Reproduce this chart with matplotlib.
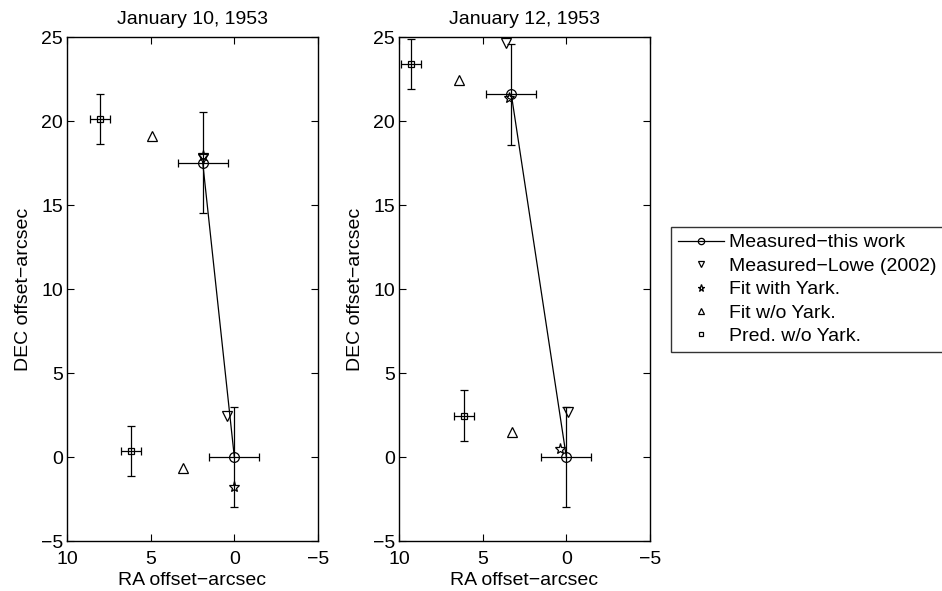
import matplotlib
matplotlib.use("Agg")
import matplotlib.pyplot as plt
from matplotlib.lines import Line2D

plt.rcParams['font.family'] = ['Liberation Sans', 'DejaVu Sans']
plt.rcParams['font.size'] = 14

titles = ["January 10, 1953", "January 12, 1953"]

# Measured - this work (with error bars)
meas_ra = [[1.89, 0.0], [3.29, 0.0]]
meas_dec = [[17.52, 0.0], [21.6, 0.0]]
meas_ra_err = 1.5
meas_dec_err = 3.0

# Measured - Lowe (2002)
lowe_ra = [[1.9, 0.43], [3.61, -0.12]]
lowe_dec = [[17.8, 2.46], [24.63, 2.66]]

# Fit with Yark.
fitY_ra = [[1.85, 0.0], [3.45, 0.38]]
fitY_dec = [[17.9, -1.8], [21.37, 0.46]]

# Fit w/o Yark.
fitN_ra = [[4.92, 3.08], [6.41, 3.27]]
fitN_dec = [[19.13, -0.64], [22.44, 1.47]]

# Pred. w/o Yark. (with error bars)
pred_ra = [[8.02, 6.17], [9.29, 6.13]]
pred_dec = [[20.12, 0.36], [23.39, 2.46]]
pred_ra_err = 0.6
pred_dec_err = 1.5

labels = ["Measured\u2212this work", "Measured\u2212Lowe (2002)", "Fit with Yark.",
          "Fit w/o Yark.", "Pred. w/o Yark."]

fig = plt.figure(figsize=(9.42, 5.91), dpi=100)
lefts = [67/942, 399/942]
bottom = 1 - 541/591
width = 251/942
height = 504/591

lw = 0.9
for i in range(2):
    ax = fig.add_axes([lefts[i], bottom, width, height])
    ax.errorbar(pred_ra[i], pred_dec[i], xerr=pred_ra_err, yerr=pred_dec_err,
                fmt='s', ms=5, mfc='none', mec='k', mew=lw, ecolor='k',
                elinewidth=lw, capsize=3, capthick=lw, zorder=3)
    ax.errorbar(meas_ra[i], meas_dec[i], xerr=meas_ra_err, yerr=meas_dec_err,
                fmt='o-', ms=7, mfc='none', mec='k', mew=lw, color='k', lw=lw,
                ecolor='k', elinewidth=lw, capsize=3, capthick=lw, zorder=3)
    ax.plot(lowe_ra[i], lowe_dec[i], 'v', ms=7, mfc='none', mec='k', mew=lw, ls='none', zorder=4)
    ax.plot(fitY_ra[i], fitY_dec[i], '*', ms=8, mfc='none', mec='k', mew=lw, ls='none', zorder=4)
    ax.plot(fitN_ra[i], fitN_dec[i], '^', ms=7, mfc='none', mec='k', mew=lw, ls='none', zorder=4)

    ax.set_xlim(10, -5)
    ax.set_ylim(-5, 25)
    ax.set_xticks([10, 5, 0, -5])
    ax.set_yticks([-5, 0, 5, 10, 15, 20, 25])
    ax.tick_params(direction='in', top=True, right=True, length=5, width=0.8)
    ax.tick_params(axis='x', pad=7)
    ax.tick_params(axis='y', pad=3)
    for s in ax.spines.values():
        s.set_linewidth(1.0)
    ax.set_title(titles[i], fontsize=14, pad=9)
    ax.set_xlabel("RA offset\u2212arcsec", labelpad=3)
    ax.set_ylabel("DEC offset\u2212arcsec", labelpad=6)

handles = [
    Line2D([], [], color='k', lw=lw, marker='o', ms=7, mfc='none', mew=lw),
    Line2D([], [], color='k', ls='none', marker='v', ms=7, mfc='none', mew=lw),
    Line2D([], [], color='k', ls='none', marker='*', ms=8, mfc='none', mew=lw),
    Line2D([], [], color='k', ls='none', marker='^', ms=7, mfc='none', mew=lw),
    Line2D([], [], color='k', ls='none', marker='s', ms=5, mfc='none', mew=lw),
]
leg = fig.legend(handles, labels, loc='upper left', bbox_to_anchor=(671/942, 1 - 227/591),
                 frameon=True, fancybox=False, edgecolor='k', fontsize=14,
                 handlelength=2.4, handletextpad=0.25, borderpad=0.35,
                 labelspacing=0.3, markerscale=0.65, borderaxespad=0)
leg.get_frame().set_linewidth(1.0)

fig.savefig("out.png", dpi=100)
